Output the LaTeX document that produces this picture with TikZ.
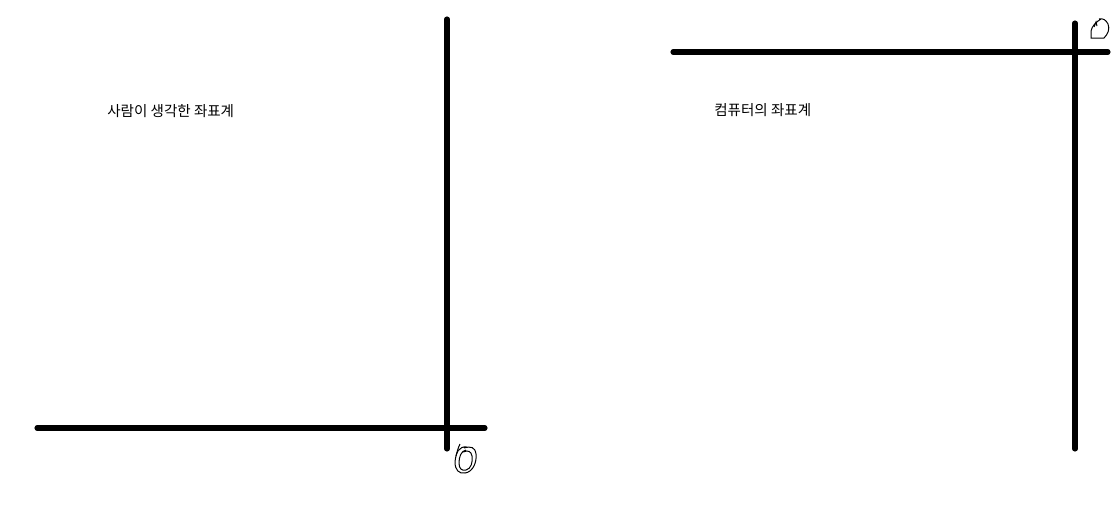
\documentclass[tikz,border=0pt]{standalone}
\usepackage{fontspec}
\newfontfamily\kr{Noto Sans CJK KR}
\begin{document}
\begin{tikzpicture}[x=0.75pt,y=-0.75pt,
  axis/.style={line width=3.8pt,line cap=round},
  scrib/.style={line width=0.75pt},
  lbl/.style={font=\kr\fontsize{10.9pt}{12pt}\selectfont,inner sep=0pt,anchor=west}]
\useasboundingbox (0,0) rectangle (1118,526);
% left system
\coordinate (lv1) at (447,19);
\coordinate (lv2) at (447,449);
\coordinate (lh1) at (37,428);
\coordinate (lh2) at (485,428);
\draw[axis] (lv1) -- (lv2);
\draw[axis] (lh1) -- (lh2);
% left zero scribble
\draw[scrib] (467,447) .. controls (459,446) and (456,452) .. (455,462)
  .. controls (455,470) and (459,474) .. (465,473)
  .. controls (473,472) and (477,462) .. (476,454)
  .. controls (475,447) and (471,446) .. (464,448);
\draw[scrib] (466,450) .. controls (461,451) and (459,457) .. (459,463)
  .. controls (459,469) and (462,471) .. (466,470)
  .. controls (471,469) and (473,462) .. (472,456)
  .. controls (471,451) and (468,450) .. (463,452);
\draw[scrib] (460,444) .. controls (458,448) and (457,452) .. (456,456);
\node[lbl] (t1) at (107,111) {사람이 생각한 좌표계};
% right system
\coordinate (rh1) at (673,52);
\coordinate (rh2) at (1108,52);
\coordinate (rv1) at (1075,23);
\coordinate (rv2) at (1075,449);
\draw[axis] (rh1) -- (rh2);
\draw[axis] (rv1) -- (rv2);
% right zero scribble
\draw[scrib] (1101,19) .. controls (1096,22) and (1092,26) .. (1091,31)
  -- (1091,38) -- (1104,38)
  .. controls (1108,34) and (1110,29) .. (1108,24)
  .. controls (1106,20) and (1103,18) .. (1099,19);
\draw[scrib] (1094,27) -- (1096,22) -- (1097,26);
\node[lbl] (t2) at (714,110) {컴퓨터의 좌표계};
\end{tikzpicture}
\end{document}
